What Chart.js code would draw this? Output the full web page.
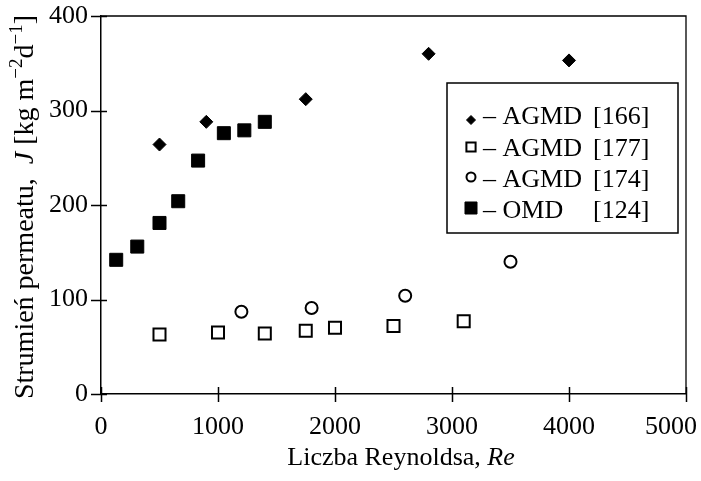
<!DOCTYPE html>
<html>
<head>
<meta charset="utf-8">
<script src="https://cdn.jsdelivr.net/npm/chart.js@4/dist/chart.umd.min.js"></script>
<style>
  html, body { margin: 0; padding: 0; background: #fff; }
  #wrap { width: 701px; height: 481px; }
</style>
</head>
<body>
<div id="wrap"><canvas id="chart" width="701" height="481"></canvas></div>
<script>
// Data (Re, J)
const agmd166Re = [500, 900, 1750, 2800, 4000];
const agmd166J  = [264, 288, 312, 360, 353];
const agmd177Re = [500, 1000, 1400, 1750, 2000, 2500, 3100];
const agmd177J  = [63, 65, 64, 67, 70, 72, 77];
const agmd174Re = [1200, 1800, 2600, 3500];
const agmd174J  = [87, 91, 104, 140];
const omd124Re  = [130, 310, 500, 660, 830, 1050, 1225, 1400];
const omd124J   = [142, 156, 181, 204, 247, 276, 279, 288];

const seriesNames = ['AGMD', 'AGMD', 'AGMD', 'OMD'];
const seriesRefs  = ['[166]', '[177]', '[174]', '[124]'];

const xTicks = [0, 1000, 2000, 3000, 4000, 5000];
const yTicks = [0, 100, 200, 300, 400];

const SERIF = '"Liberation Serif", "Times New Roman", serif';

function toPoints(xs, ys) {
    return xs.map((x, i) => ({ x: x, y: ys[i] }));
}

// draw a line of text made of parts with different fonts, centred on cx
function drawRich(ctx, parts, cx, y) {
    let total = 0;
    parts.forEach(p => { ctx.font = p.font; total += ctx.measureText(p.t).width; });
    let x = cx - total / 2;
    parts.forEach(p => {
        ctx.font = p.font;
        ctx.fillText(p.t, x, y + (p.dy || 0));
        x += ctx.measureText(p.t).width;
    });
}

// frame, crossing tick marks, x tick labels and axis titles
const decorPlugin = {
    id: 'decor',
    afterDraw(chart) {
        const ctx = chart.ctx;
        const a = chart.chartArea;
        const xs = chart.scales.x, ys = chart.scales.y;
        ctx.save();
        ctx.strokeStyle = '#000';
        ctx.lineWidth = 1.3;
        ctx.beginPath();
        ctx.moveTo(a.left, a.top);
        ctx.lineTo(a.right, a.top);
        ctx.lineTo(a.right, a.bottom);
        ctx.stroke();

        ctx.lineWidth = 1.5;
        ctx.beginPath();
        xs.ticks.forEach(t => {
            const px = Math.round(xs.getPixelForValue(t.value)) + 0.5;
            ctx.moveTo(px, a.bottom - 7);
            ctx.lineTo(px, a.bottom + 8);
        });
        ys.ticks.forEach(t => {
            const py = Math.round(ys.getPixelForValue(t.value)) + 0.5;
            ctx.moveTo(a.left - 10, py);
            ctx.lineTo(a.left + 6, py);
        });
        ctx.stroke();

        // x tick labels, last one pulled in so it stays on the page
        ctx.fillStyle = '#000';
        ctx.font = '26px ' + SERIF;
        ctx.textAlign = 'left';
        ctx.textBaseline = 'alphabetic';
        xs.ticks.forEach(t => {
            const txt = String(t.value);
            const w = ctx.measureText(txt).width;
            let left = xs.getPixelForValue(t.value) - w / 2;
            left = Math.min(left, chart.width - 4 - w);
            ctx.fillText(txt, left, 434);
        });

        // axis titles
        drawRich(ctx, [
            { t: 'Liczba Reynoldsa, ', font: '26px ' + SERIF },
            { t: 'Re', font: 'italic 26px ' + SERIF }
        ], 401, 465);

        ctx.translate(33, 207);
        ctx.rotate(-Math.PI / 2);
        drawRich(ctx, [
            { t: 'Strumień permeatu,  ', font: '28px ' + SERIF },
            { t: 'J', font: 'italic 28px ' + SERIF },
            { t: ' [kg m', font: '28px ' + SERIF },
            { t: '\u22122', font: '19px ' + SERIF, dy: -11 },
            { t: 'd', font: '28px ' + SERIF },
            { t: '\u22121', font: '19px ' + SERIF, dy: -11 },
            { t: ']', font: '28px ' + SERIF }
        ], 0, 0);
        ctx.restore();
    }
};

// legend box inside the plot
const legendPlugin = {
    id: 'boxLegend',
    afterDraw(chart) {
        const ctx = chart.ctx;
        const box = { left: 447, top: 83, right: 678, bottom: 233 };
        ctx.save();
        ctx.fillStyle = '#fff';
        ctx.fillRect(box.left, box.top, box.right - box.left, box.bottom - box.top);
        ctx.strokeStyle = '#000';
        ctx.lineWidth = 1.5;
        ctx.strokeRect(box.left, box.top, box.right - box.left, box.bottom - box.top);

        const legendSizes = [4.5, 6.5, 4.5, 8.5];
        const markerY = [120, 147, 177, 208];
        const baseY = [124, 156, 187, 218];
        chart.data.datasets.forEach((ds, i) => {
            ctx.fillStyle = ds.backgroundColor;
            ctx.strokeStyle = ds.borderColor;
            ctx.lineWidth = ds.borderWidth;
            Chart.helpers.drawPoint(ctx, {
                pointStyle: ds.pointStyle,
                radius: legendSizes[i],
                borderWidth: ds.borderWidth,
                rotation: 0
            }, 471, markerY[i]);
            ctx.fillStyle = '#000';
            ctx.font = '26px ' + SERIF;
            ctx.textAlign = 'left';
            ctx.textBaseline = 'alphabetic';
            ctx.fillText('\u2013 ' + seriesNames[i], 483, baseY[i]);
            ctx.fillText(seriesRefs[i], 593, baseY[i]);
        });
        ctx.restore();
    }
};

const ctx = document.getElementById('chart').getContext('2d');
new Chart(ctx, {
    type: 'scatter',
    data: {
        datasets: [
            {
                label: seriesNames[0] + ' ' + seriesRefs[0],
                data: toPoints(agmd166Re, agmd166J),
                pointStyle: 'rectRot', pointRadius: 6.5,
                backgroundColor: '#000', borderColor: '#000', borderWidth: 1
            },
            {
                label: seriesNames[1] + ' ' + seriesRefs[1],
                data: toPoints(agmd177Re, agmd177J),
                pointStyle: 'rect', pointRadius: 8.5,
                backgroundColor: '#fff', borderColor: '#000', borderWidth: 2
            },
            {
                label: seriesNames[2] + ' ' + seriesRefs[2],
                data: toPoints(agmd174Re, agmd174J),
                pointStyle: 'circle', pointRadius: 6,
                backgroundColor: '#fff', borderColor: '#000', borderWidth: 2
            },
            {
                label: seriesNames[3] + ' ' + seriesRefs[3],
                data: toPoints(omd124Re, omd124J),
                pointStyle: 'rect', pointRadius: 9.2,
                backgroundColor: '#000', borderColor: '#000', borderWidth: 1
            }
        ]
    },
    options: {
        responsive: false,
        animation: false,
        devicePixelRatio: 1,
        layout: { padding: { top: 16, right: 15, left: 0, bottom: 0 } },
        plugins: {
            legend: { display: false },
            tooltip: { enabled: false }
        },
        scales: {
            x: {
                type: 'linear',
                min: xTicks[0],
                max: xTicks[xTicks.length - 1],
                afterBuildTicks: s => { s.ticks = xTicks.map(v => ({ value: v })); },
                grid: { display: false, drawTicks: false },
                border: { display: true, color: '#000', width: 1.5 },
                ticks: { display: false },
                afterFit: s => { s.height = 87; s.paddingLeft = 0; s.paddingRight = 0; }
            },
            y: {
                type: 'linear',
                min: yTicks[0],
                max: yTicks[yTicks.length - 1],
                afterBuildTicks: s => { s.ticks = yTicks.map(v => ({ value: v })); },
                grid: { display: false, drawTicks: false },
                border: { display: true, color: '#000', width: 1.5 },
                ticks: { color: '#000', padding: 13, font: { family: SERIF, size: 26 } },
                afterFit: s => { s.width = 101; s.paddingTop = 0; s.paddingBottom = 0; }
            }
        }
    },
    plugins: [decorPlugin, legendPlugin]
});
</script>
</body>
</html>
